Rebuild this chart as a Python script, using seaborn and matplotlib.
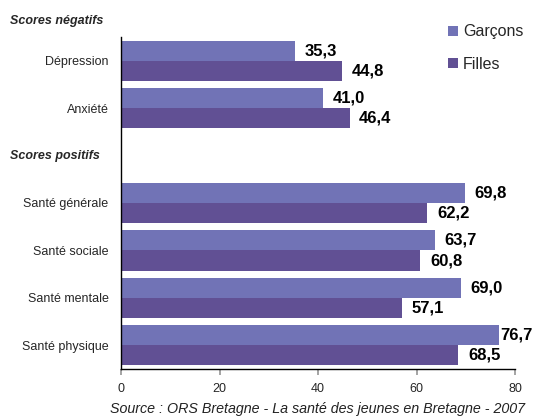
import numpy as np
import pandas as pd
import matplotlib
matplotlib.use("Agg")
import matplotlib.pyplot as plt
from matplotlib.patches import Patch
from matplotlib.transforms import blended_transform_factory
import seaborn as sns

categories = ["Dépression", "Anxiété", "", "Santé générale", "Santé sociale",
              "Santé mentale", "Santé physique"]
garcons = [35.3, 41.0, np.nan, 69.8, 63.7, 69.0, 76.7]
filles = [44.8, 46.4, np.nan, 62.2, 60.8, 57.1, 68.5]
series = ["Garçons", "Filles"]
colors = ["#7173B6", "#615094"]
xticks = [0, 20, 40, 60, 80]
source = "Source : ORS Bretagne - La santé des jeunes en Bretagne - 2007"

sns.set_theme(style="white")
plt.rcParams["font.family"] = ["Liberation Sans", "DejaVu Sans"]

df = pd.DataFrame({
    "cat": categories * 2,
    "val": garcons + filles,
    "sexe": [series[0]] * len(categories) + [series[1]] * len(categories),
})

fig = plt.figure(figsize=(5.33, 4.18), dpi=100)
ax = fig.add_axes([121 / 533, 1 - 369 / 418, (515 - 121) / 533, (369 - 37) / 418])

sns.barplot(data=df, y="cat", x="val", hue="sexe", order=categories,
            hue_order=series, palette=colors, saturation=1, width=0.85,
            linewidth=0, orient="h", ax=ax, legend=False, errorbar=None)

ax.set_xlim(0, 80)
ax.set_ylim(len(categories) - 0.5, -0.5)
ax.set_xticks(xticks)
ax.set_xticklabels([str(t) for t in xticks], fontsize=9)
ax.set_xlabel("")
ax.set_ylabel("")
ax.tick_params(axis="y", which="major", length=0, labelsize=9, pad=9)
ax.set_yticks(np.arange(-0.5, len(categories), 1.0), minor=True)
ax.tick_params(axis="y", which="minor", length=4, color="#999999", direction="out")
ax.tick_params(axis="x", which="major", length=4, color="#999999", direction="out",
               bottom=True, pad=6)
for s in ["top", "right"]:
    ax.spines[s].set_visible(False)
for s in ["left", "bottom"]:
    ax.spines[s].set_color("black")
    ax.spines[s].set_linewidth(1.0)

# value labels
texts = []
for i, c in enumerate(categories):
    for j, vals in enumerate([garcons, filles]):
        v = vals[i]
        if np.isnan(v):
            continue
        y = i + (-0.2125 if j == 0 else 0.2125)
        t = ax.annotate(f"{v:.1f}".replace(".", ","), xy=(v, y), xytext=(7, 0),
                        textcoords="offset points", ha="left", va="center",
                        fontsize=12, fontweight="bold", color="black",
                        annotation_clip=False)
        texts.append(t)

fig.canvas.draw()
r = fig.canvas.get_renderer()
W = fig.bbox.width
for t in texts:
    bb = t.get_window_extent(r)
    if bb.x1 > W:
        dx = (bb.x1 - W) * 72 / fig.dpi
        ox, oy = t.xyann
        t.xyann = (max(ox - dx, 1), oy)

# group headers
trans = blended_transform_factory(fig.transFigure, ax.transData)
fig.text(10 / 533, 1 - 21 / 418, "Scores négatifs", fontsize=9, fontweight="bold",
         fontstyle="italic", ha="left", va="center")
ax.text(10 / 533, 2, "Scores positifs", transform=trans, fontsize=9,
        fontweight="bold", fontstyle="italic", ha="left", va="center")

handles = [Patch(facecolor=colors[k], edgecolor="none", label=series[k]) for k in range(2)]
fig.legend(handles=handles, loc="upper left", bbox_to_anchor=(442 / 533, 1 - 18 / 418),
           frameon=False, fontsize=11.5, handlelength=0.6, handleheight=0.6,
           handletextpad=0.3, labelspacing=1.1, borderaxespad=0)

fig.text(318 / 533, 1 - 409 / 418, source, fontsize=10.3, fontstyle="italic",
         ha="center", va="center", color="#222222")

fig.savefig("out.png", dpi=100)
